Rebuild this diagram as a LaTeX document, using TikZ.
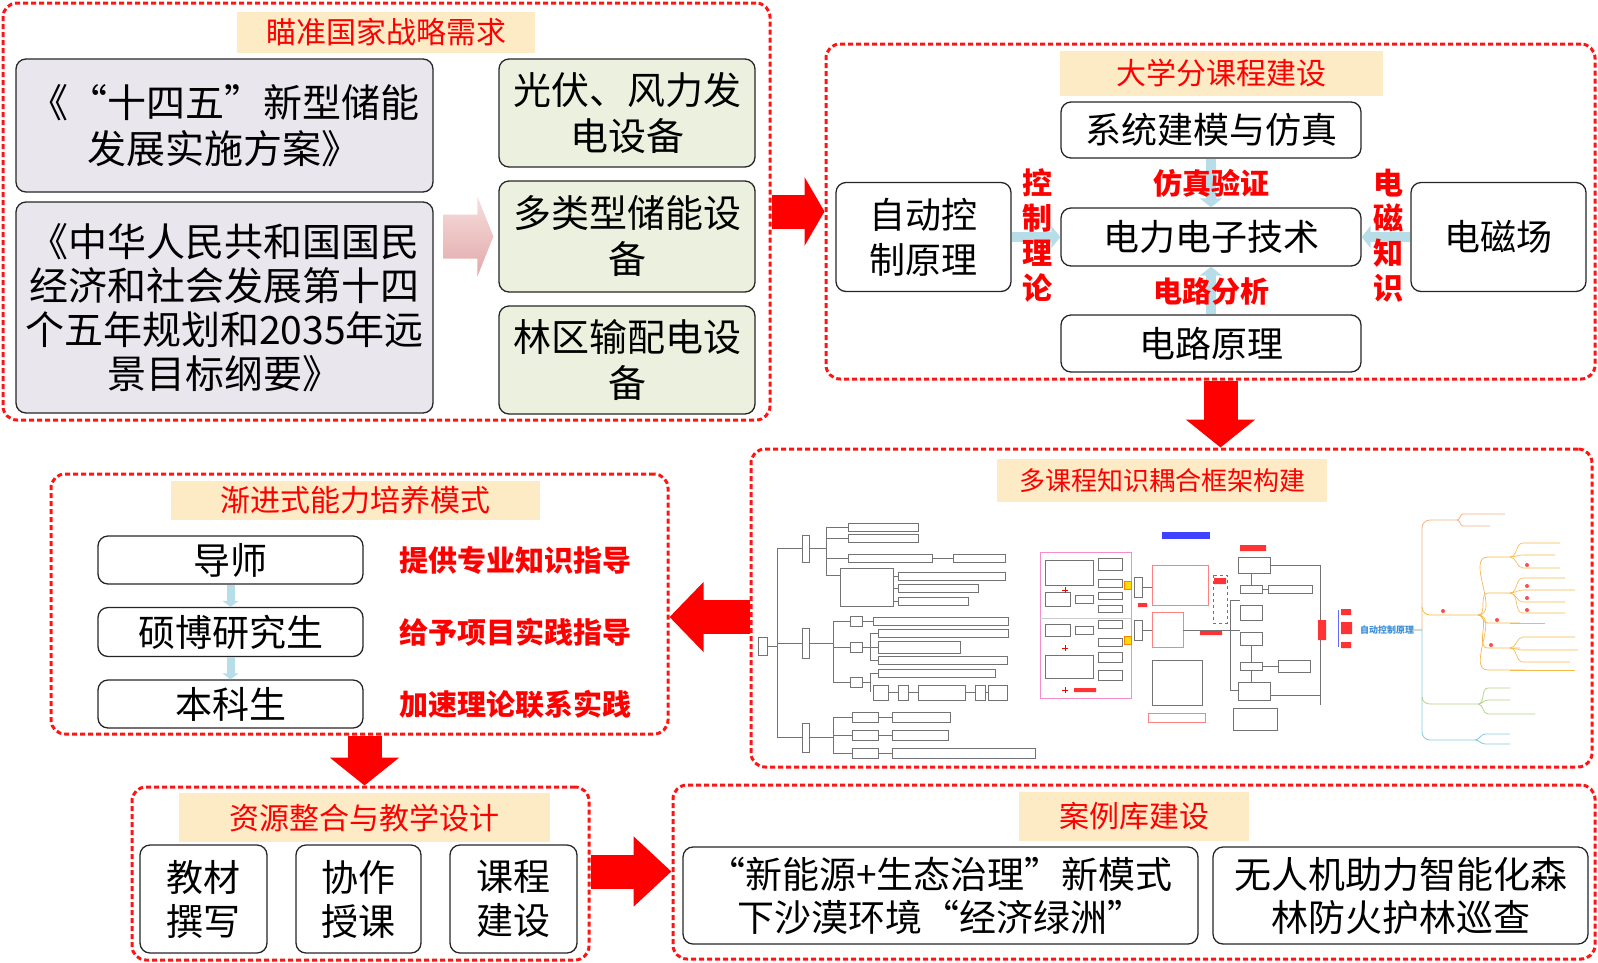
\documentclass[tikz,border=0pt]{standalone}
\usepackage{fontspec}
\setmainfont{Noto Sans CJK SC}
\usepackage{xcolor}
\usepackage{tikz}
\usetikzlibrary{arrows.meta,positioning,calc}
\definecolor{framered}{HTML}{FF1414}
\definecolor{titlefill}{HTML}{FDEBC6}
\definecolor{docfill}{HTML}{E9E6EE}
\definecolor{devfill}{HTML}{EBF1DE}
\definecolor{linkblue}{HTML}{B7DDE8}
\definecolor{pinktop}{HTML}{F6DEDE}
\definecolor{pinkbot}{HTML}{E3A8A8}
\definecolor{mapsalmon}{HTML}{F4B183}
\definecolor{maporange}{HTML}{F6B94C}
\definecolor{mapgreen}{HTML}{B5D38C}
\definecolor{mapteal}{HTML}{86C8DA}
\definecolor{mapblue}{HTML}{3B8ED8}
\newcommand\fsz[2]{\fontsize{#1}{#2}\selectfont}

\begin{document}
\begin{tikzpicture}[x=1pt,y=-1pt]
\tikzset{redframe/.style={draw=framered,line width=3pt,dash pattern=on 5pt off 3pt,rounded corners=14pt,inner sep=0pt},
titlebar/.style={fill=titlefill,text=red,inner sep=0pt,font=\fsz{30}{34}},
whitebox/.style={draw=black!85,line width=1.3pt,rounded corners=10pt,fill=white,align=center,inner sep=0pt,font=\fsz{37}{44}},
redlabel/.style={text=red,align=center,font=\fsz{29}{35}\bfseries},
linkarrow/.style={draw=linkblue,line width=10pt,-{Triangle[width=22pt,length=9pt]}},
bigarrow/.style={draw=red,line width=34pt,-{Triangle[width=68pt,length=#1]}},
bigarrow/.default=36pt}
\useasboundingbox (0,0) rectangle (1598,962);

% frames
\node[redframe,minimum width=767pt,minimum height=417pt] (need) at (386.5,211.5) {};
\node[redframe,minimum width=769pt,minimum height=335pt] (uni) at (1210.5,211.5) {};
\node[redframe,minimum width=841pt,minimum height=318pt] (couple) at (1171.5,608) {};
\node[redframe,minimum width=617pt,minimum height=260pt] (mode) at (359.5,604) {};
\node[redframe,minimum width=457pt,minimum height=173pt] (res) at (360.5,873.5) {};
\node[redframe,minimum width=922pt,minimum height=174pt] (case) at (1134,872) {};

% titles
\node[titlebar,minimum width=298pt,minimum height=41pt] (t1) at (386,32.5) {瞄准国家战略需求};
\node[titlebar,minimum width=323pt,minimum height=45pt] (t2) at (1221.5,73.5) {大学分课程建设};
\node[titlebar,minimum width=330pt,minimum height=43pt,font=\fsz{26}{30}] (t3) at (1162,480.5) {多课程知识耦合框架构建};
\node[titlebar,minimum width=369pt,minimum height=39pt] (t4) at (355.5,500.5) {渐进式能力培养模式};
\node[titlebar,minimum width=371pt,minimum height=49pt] (t5) at (364.5,817.5) {资源整合与教学设计};
\node[titlebar,minimum width=230pt,minimum height=49pt] (t6) at (1134,816.5) {案例库建设};

% national needs
\node[whitebox,fill=docfill,minimum width=417pt,minimum height=133pt,font=\fsz{39}{46}] (docA) at (224.5,125.5) {《“十四五”新型储能\\发展实施方案》};
\node[whitebox,fill=docfill,minimum width=417pt,minimum height=211pt,font=\fsz{39}{44}] (docB) at (224.5,307.5) {《中华人民共和国国民\\经济和社会发展第十四\\个五年规划和2035年远\\景目标纲要》};
\node[whitebox,fill=devfill,minimum width=256pt,minimum height=108pt,font=\fsz{38}{46}] (devA) at (627,113) {光伏、风力发\\电设备};
\node[whitebox,fill=devfill,minimum width=256pt,minimum height=111pt,font=\fsz{38}{46}] (devB) at (627,236.5) {多类型储能设\\备};
\node[whitebox,fill=devfill,minimum width=256pt,minimum height=108pt,font=\fsz{38}{46}] (devC) at (627,360) {林区输配电设\\备};
\coordinate (h) at ($(devB.west)+(-5,0)$);
\shade[top color=pinktop,bottom color=pinkbot] (h) ++(-50,-22) -- ++(34,0) -- ++(0,-18) -- (h) -- ++(-16,40) -- ++(0,-18) -- ++(-34,0) -- cycle;

% courses
\node[whitebox,minimum width=300pt,minimum height=56pt,font=\fsz{36}{44}] (sim) at (1211,130) {系统建模与仿真};
\node[whitebox,minimum width=300pt,minimum height=58pt,font=\fsz{36}{44}] (pe) at (1211,237) {电力电子技术};
\node[whitebox,minimum width=300pt,minimum height=57pt,font=\fsz{36}{44}] (ckt) at (1211,343.5) {电路原理};
\node[whitebox,minimum width=175pt,minimum height=109pt,font=\fsz{36}{45}] (ctrl) at (923.5,237) {自动控\\制原理};
\node[whitebox,minimum width=175pt,minimum height=109pt,font=\fsz{36}{45}] (em) at (1498.5,237) {电磁场};
\draw[linkarrow] (sim) -- (pe);
\draw[linkarrow] (ckt) -- (pe);
\draw[linkarrow] (ctrl.east) -- (ctrl.east -| pe.west);
\draw[linkarrow] (em.west) -- (em.west -| pe.east);
\node[redlabel] (l1) at (1211,183) {仿真验证};
\node[redlabel] (l2) at (1211,292) {电路分析};
\node[redlabel,font=\fsz{30}{35}\bfseries] (l3) at (1037,236) {控\\制\\理\\论};
\node[redlabel,font=\fsz{30}{35}\bfseries] (l4) at (1388,236) {电\\磁\\知\\识};

% progressive training
\node[whitebox,minimum width=265pt,minimum height=48pt] (tutor) at (230.5,560) {导师};
\node[whitebox,minimum width=265pt,minimum height=49pt] (grad) at (230.5,632) {硕博研究生};
\node[whitebox,minimum width=265pt,minimum height=48pt] (under) at (230.5,704) {本科生};
\draw[linkarrow,line width=8pt,-{Triangle[width=16pt,length=6pt]}] (tutor) -- (grad);
\draw[linkarrow,line width=8pt,-{Triangle[width=16pt,length=6pt]}] (grad) -- (under);
\node[redlabel] (g1) at (515,560) {提供专业知识指导};
\node[redlabel] (g2) at (515,632) {给予项目实践指导};
\node[redlabel] (g3) at (515,704) {加速理论联系实践};

% resources
\node[whitebox,minimum width=127pt,minimum height=108pt,font=\fsz{37}{44}] (r1) at (203.5,899) {教材\\撰写};
\node[whitebox,minimum width=125pt,minimum height=108pt,font=\fsz{37}{44}] (r2) at (358.5,899) {协作\\授课};
\node[whitebox,minimum width=127pt,minimum height=108pt,font=\fsz{37}{44}] (r3) at (513.5,899) {课程\\建设};

% cases
\node[whitebox,minimum width=515pt,minimum height=97pt,font=\fsz{37}{43}] (c1) at (940.5,895.5) {“新能源+生态治理”新模式\\下沙漠环境“经济绿洲”};
\node[whitebox,minimum width=375pt,minimum height=97pt,font=\fsz{37}{43}] (c2) at (1400.5,895.5) {无人机助力智能化森\\林防火护林巡查};

% knowledge map sketch
\begin{scope}[draw=black!55,line width=0.5pt]
\draw (758,637) rectangle (767,655) (767,646) -- (777,646) (777,548) -- (777,738);
\foreach \ya/\yb in {535/562,628/658,723/752}
  \draw (777,{(\ya+\yb)/2}) -- (802,{(\ya+\yb)/2}) (802,\ya) rectangle (809,\yb);
\draw (809,548.5) -- (826,548.5) (826,527) -- (826,575);
\draw (809,643) -- (833,643) (833,621) -- (833,682);
\draw (809,737.5) -- (833,737.5) (833,717) -- (833,753);
\foreach \y/\xa/\xb in {527/848/918,538/848/918,558/848/932}
  \draw (826,\y) -- (\xa,\y) (\xa,\y-4) rectangle (\xb,\y+4);
\draw (932,558) -- (953,558) (953,554) rectangle (1005,562);
\draw (826,575) -- (840,575) (840,568) rectangle (893,606);
\foreach \y/\xb in {576/1005,588/978,601/968}
  \draw (893,\y) -- (898,\y) (898,\y-4) rectangle (\xb,\y+4);
\foreach \y in {621,647,682}
  \draw (833,\y) -- (850,\y) (850,\y-5) rectangle (862,\y+5);
\draw (862,621) -- (873,621) (873,617) rectangle (1008,625);
\draw (862,647) -- (870,647) (870,633) -- (870,660) (862,682) -- (870,682) (870,673) -- (870,692);
\foreach \y/\xb/\hh in {633/1008/4,647/960/6,660/1007/4,673/995/4}
  \draw (870,\y) -- (878,\y) (878,\y-\hh) rectangle (\xb,\y+\hh);
\foreach \xa/\xb in {873/888,898/908,918/965,975/985,988/1007}
  \draw (\xa,685) rectangle (\xb,700);
\draw (888,692) -- (898,692) (908,692) -- (918,692) (965,692) -- (975,692) (985,692) -- (988,692);
\foreach \y/\xb in {717/950,735/948,753/1035}
  \draw (833,\y) -- (852,\y) (852,\y-5) rectangle (878,\y+5) (878,\y) -- (892,\y) (892,\y-5) rectangle (\xb,\y+5);
% middle block
\draw[magenta!45,line width=1pt] (1040,552) rectangle (1131,698);
\draw[black!20] (1040,618) -- (1131,618);
\foreach \xa/\ya/\xb/\yb in {1045/560/1093/585,1098/558/1122/570,1098/579/1122/587,1045/592/1070/606,1075/595/1093/603,1098/592/1122/599,1098/605/1122/612,1045/624/1070/636,1075/626/1093/634,1098/620/1122/628,1098/638/1122/646,1045/655/1093/678,1098/652/1122/662,1098/670/1122/680,1134/577/1142/597,1134/620/1142/640,1152/660/1202/705,1238/557/1270/573,1240/585/1262/593,1268/585/1312/593,1240/605/1262/620,1240/632/1262/645,1240/662/1262/670,1278/660/1310/672,1238/682/1270/700,1233/708/1277/730}
  \draw (\xa,\ya) rectangle (\xb,\yb);
\foreach \y in {590,648,690}
  \draw[red,line width=0.8pt] (1062,\y) -- (1068,\y) (1065,\y-3) -- (1065,\y+3);
\fill[red!80] (1074,688) rectangle (1096,692) (1138,603) rectangle (1147,607) (1200,631) rectangle (1222,635) (1240,545) rectangle (1266,551) (1214,578) rectangle (1226,584);
\foreach \y in {585,640}
  \draw[fill=yellow!80!orange,draw=orange] (1124,\y-4) rectangle (1131,\y+4);
\draw[red!50] (1152,565) rectangle (1208,605) (1152,612) rectangle (1183,647) (1148,713) rectangle (1205,722);
\draw[dashed] (1213,575) rectangle (1227,623);
\fill[blue!75] (1162,532) rectangle (1210,539);
\draw (1142,587) -- (1152,587) (1142,630) -- (1152,630) (1183,630) -- (1240,630) (1230,600) -- (1230,690) (1230,600) -- (1240,600) (1230,690) -- (1238,690)
  (1270,565) -- (1320,565) (1320,565) -- (1320,705) (1270,695) -- (1320,695) (1262,589) -- (1268,589) (1262,666) -- (1278,666) (1251,573) -- (1251,585) (1251,645) -- (1251,662) (1251,670) -- (1251,682);
% right mind map
\fill[red!80] (1318,620) rectangle (1326,640) (1341,609) rectangle (1351,615) (1341,622) rectangle (1352,634) (1341,642) rectangle (1351,648);
\draw[blue!60,line width=0.8pt] (1338,610) -- (1338,647);
\node[text=mapblue,font=\fsz{9}{10}\bfseries] (acp) at (1387,630) {自动控制原理};
\draw[mapsalmon,line width=0.8pt] (1412,630) -- (1422,630) -- (1422,528) to[out=90,in=180] (1430,520) -- (1457,520)
  (1457,520) to[out=0,in=180] (1463,514) -- (1505,514) (1457,520) to[out=0,in=180] (1463,526) -- (1490,526);
\draw[maporange,line width=0.8pt] (1422,607) to[out=-90,in=180] (1430,615) -- (1478,615);
\foreach \y/\xb in {557/1510,593/1510,623/1520,648/1520,670/1525}
  \draw[maporange,line width=0.7pt] (1478,615) to[out=0,in=180] (1488,\y) -- (\xb,\y);
\foreach \ya/\y/\xb in {557/543/1560,557/555/1555,557/568/1560,593/578/1565,593/590/1575,593/602/1565,593/613/1565,623/623/1545,648/637/1575,648/650/1578,648/662/1570,670/670/1575}
  \draw[maporange,line width=0.6pt] (1510,\ya) to[out=0,in=180] (1523,\y) -- (\xb,\y);
\foreach \x/\y in {1527/565,1527/586,1527/598,1527/610,1497/620,1491/645,1443/611}
  \fill[red!70] (\x,\y) circle (2pt);
\draw[mapteal,line width=0.8pt] (1412,630) -- (1422,630) -- (1422,732) to[out=-90,in=180] (1430,740) -- (1475,740)
  (1475,740) to[out=0,in=180] (1485,734) -- (1510,734) (1475,740) to[out=0,in=180] (1485,744) -- (1510,744);
\draw[mapgreen,line width=0.8pt] (1422,697) to[out=-90,in=180] (1430,704) -- (1478,704)
  (1478,704) to[out=0,in=180] (1488,688) -- (1510,688) (1478,704) to[out=0,in=180] (1488,700) -- (1510,700) (1478,704) to[out=0,in=180] (1488,714) -- (1535,714);
\end{scope}

% flow arrows
\draw[bigarrow=20pt] (need.east) -- (uni.west);
\draw[bigarrow=28pt] ($(uni.south)+(10,0)$) coordinate (a2) -- (a2 |- couple.north);
\draw[bigarrow=34pt] ($(couple.west)+(0,9)$) coordinate (a3) -- (a3 -| mode.east);
\draw[bigarrow=28pt] ($(mode.south)+(5,0)$) coordinate (a4) -- (a4 |- res.north);
\draw[bigarrow=38pt] ($(res.east)+(0,-2)$) coordinate (a5) -- (a5 -| case.west);
\end{tikzpicture}
\end{document}
